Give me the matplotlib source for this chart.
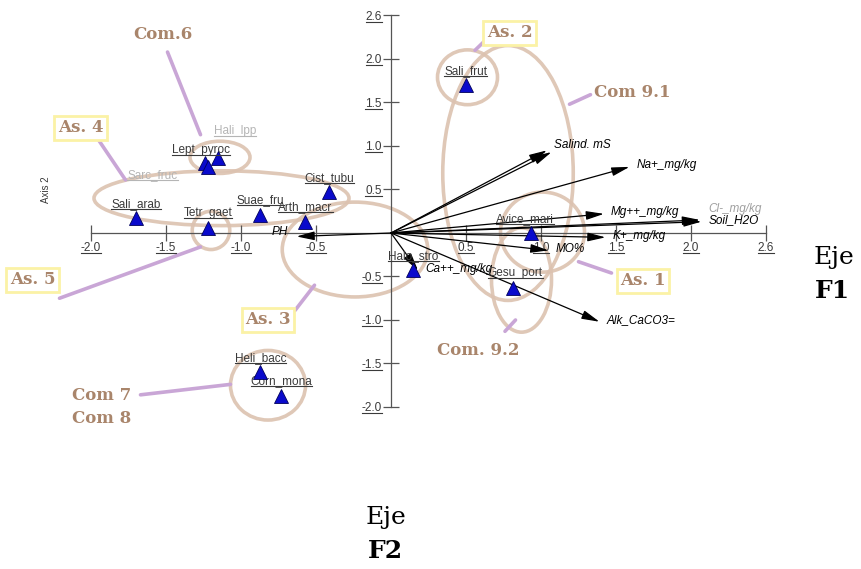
import matplotlib
matplotlib.use("Agg")
import matplotlib.pyplot as plt
from matplotlib.patches import Ellipse
from matplotlib.lines import Line2D
from matplotlib.transforms import IdentityTransform

# species scores (triangles)
species = ["Sali_frut", "Hali_lpp", "Lept_pyroc", "Sarc_fruc", "Sali_arab", "Tetr_gaet",
           "Suae_fru", "Arth_macr", "Cist_tubu", "Avice_mari", "Halo_stro", "Gesu_port",
           "Heli_bacc", "Corn_mona"]
sp_x = [0.50, -1.15, -1.24, -1.22, -1.70, -1.22, -0.87, -0.57, -0.41, 0.93, 0.15, 0.81, -0.87, -0.73]
sp_y = [1.70, 0.86, 0.80, 0.76, 0.17, 0.06, 0.21, 0.13, 0.47, 0.00, -0.43, -0.63, -1.60, -1.87]

# environmental vectors
env_names = ["Salind. mS", "", "Na+_mg/kg", "Mg++_mg/kg", "Cl-_mg/kg", "Soil_H2O",
             "K+_mg/kg", "MO%", "Ca++_mg/kg", "Alk_CaCO3=", "PH"]
env_x = [1.04, 1.07, 1.59, 1.42, 2.06, 2.07, 1.43, 1.05, 0.18, 1.39, -0.63]
env_y = [0.95, 0.93, 0.76, 0.22, 0.15, 0.13, -0.05, -0.20, -0.43, -1.02, -0.04]

# axis ticks
x_ticks = [-2.0, -1.5, -1.0, -0.5, 0.5, 1.0, 1.5, 2.0, 2.5]
x_tick_labels = ["-2.0", "-1.5", "-1.0", "-0.5", "0.5", "1.0", "1.5", "2.0", "2.6"]
y_ticks = [2.5, 2.0, 1.5, 1.0, 0.5, -0.5, -1.0, -1.5, -2.0]
y_tick_labels = ["2.6", "2.0", "1.5", "1.0", "0.5", "-0.5", "-1.0", "-1.5", "-2.0"]

# hand drawn groups (ellipses)
grp_x = [0.51, 0.78, 1.01, 0.87, -0.24, -1.13, -1.14, -1.20, -0.82]
grp_y = [1.79, 0.69, 0.01, -0.54, -0.19, 0.40, 0.87, 0.03, -1.75]
grp_w = [0.40, 0.87, 0.56, 0.40, 0.97, 1.70, 0.40, 0.25, 0.50]
grp_h = [0.63, 2.93, 0.92, 1.20, 1.09, 0.63, 0.37, 0.44, 0.80]

# group names, label positions and callout lines
grp_names = ["Com.6", "As. 4", "As. 5", "As. 3", "Com 7\nCom 8", "As. 2", "Com 9.1", "As. 1", "Com. 9.2"]
grp_boxed = [False, True, True, True, False, True, False, True, False]
lab_x = [-1.52, -2.07, -2.39, -0.82, -1.93, 0.79, 1.61, 1.68, 0.58]
lab_y = [2.28, 1.21, -0.54, -1.00, -2.00, 2.30, 1.61, -0.55, -1.35]
line_x0 = [-1.49, -1.95, -2.21, -0.64, -1.67, 0.56, 1.19, 1.25, 0.76]
line_y0 = [2.08, 1.07, -0.75, -0.89, -1.86, 2.10, 1.48, -0.33, -1.13]
line_x1 = [-1.27, -1.77, -1.27, -0.51, -1.07, 0.62, 1.33, 1.47, 0.83]
line_y1 = [1.13, 0.61, -0.16, -0.60, -1.74, 2.20, 1.59, -0.46, -1.00]

BROWN = "#a9856b"
PENCIL = "#dcc2b0"
LILAC = "#c9a6d6"
GREY = "#3a3a3a"

fig = plt.figure(figsize=(8.61, 5.69), dpi=100)
ax = fig.add_axes([0, 0, 1, 1])
ax.set_xlim(-391 / 150, 470 / 150)
ax.set_ylim(-336 / 87, 233 / 87)

# axes through the origin
for s in ["top", "right"]:
    ax.spines[s].set_visible(False)
ax.spines["left"].set_position(("data", 0))
ax.spines["bottom"].set_position(("data", 0))
ax.spines["bottom"].set_bounds(-2.0, 2.5)
ax.spines["left"].set_bounds(-2.0, 2.5)
for s in ["left", "bottom"]:
    ax.spines[s].set_color("#555555")
    ax.spines[s].set_linewidth(0.9)
ax.set_xticks(x_ticks, x_tick_labels)
ax.set_yticks(y_ticks, y_tick_labels)
ax.tick_params(direction="inout", length=11, width=0.9, color="#555555",
               labelsize=8.5, labelcolor=GREY, pad=1)
for t in ax.get_xticklabels() + ax.get_yticklabels():
    t.set_fontfamily("Liberation Sans")

# groups
for cx, cy, w, h in zip(grp_x, grp_y, grp_w, grp_h):
    ax.add_patch(Ellipse((cx, cy), w, h, fill=False, ec=PENCIL, lw=2.6, alpha=0.9, zorder=1))
for xa, ya, xb, yb in zip(line_x0, line_y0, line_x1, line_y1):
    ax.plot([xa, xb], [ya, yb], color=LILAC, lw=2.6, solid_capstyle="round", zorder=1)
for name, bx, tx, ty in zip(grp_names, grp_boxed, lab_x, lab_y):
    kw = {}
    if bx:
        kw["bbox"] = dict(boxstyle="square,pad=0.2", fc="white", ec="#fbf2a6", lw=2)
    ax.text(tx, ty, name, color=BROWN, fontsize=12, fontweight="bold",
            family="DejaVu Serif", ha="center", va="center", linespacing=1.45, zorder=3, **kw)

# environmental arrows
for name, ex, ey in zip(env_names, env_x, env_y):
    ax.annotate("", xy=(ex, ey), xytext=(0, 0),
                arrowprops=dict(arrowstyle="-|>,head_length=0.9,head_width=0.22",
                                color="black", lw=0.9, shrinkA=0, shrinkB=0,
                                mutation_scale=12), zorder=4)
    if not name:
        continue
    if name == "PH":
        off, ha = (-6, 3), "right"
    elif name == "Salind. mS":
        off, ha = (5, 4), "left"
    elif name == "Cl-_mg/kg":
        off, ha = (6, 8), "left"
    else:
        off, ha = (5, 1), "left"
    col = "#a0a0a0" if name == "Cl-_mg/kg" else "black"
    ax.annotate(name, xy=(ex, ey), xytext=off, textcoords="offset points",
                ha=ha, va="center", fontsize=8.5, style="italic", color=col,
                family="Liberation Sans", zorder=5)

# species triangles and labels (the crowded Com.6 cluster is spread a little)
ax.plot(sp_x, sp_y, linestyle="none", marker="^", ms=10, mfc="#0a0acc",
        mec="#00005a", mew=0.6, zorder=6)
label_off = {"Hali_lpp": (12, 15), "Lept_pyroc": (-3, 5), "Sarc_fruc": (-40, -10),
             "Gesu_port": (2, 6), "Avice_mari": (-4, 6)}
sp_texts = []
for name, sx, sy in zip(species, sp_x, sp_y):
    off = label_off.get(name, (0, 6))
    col = "#b5b5b5" if name in ("Hali_lpp", "Sarc_fruc") else GREY
    t = ax.annotate(name, xy=(sx, sy), xytext=off, textcoords="offset points",
                    ha="center", va="bottom", fontsize=8.5, color=col,
                    family="Liberation Sans", zorder=5)
    sp_texts.append(t)

ax.text(-2.3, 0.5, "Axis 2", rotation=90, fontsize=7, color=GREY,
        family="Liberation Sans", ha="center", va="center")

# axis titles outside the plot
fig.text(0.968, 0.547, "Eje", fontsize=18, family="DejaVu Serif", ha="center", va="center")
fig.text(0.967, 0.489, "F1", fontsize=18, fontweight="bold", family="DejaVu Serif",
         ha="center", va="center")
fig.text(0.448, 0.090, "Eje", fontsize=18, family="DejaVu Serif", ha="center", va="center")
fig.text(0.448, 0.032, "F2", fontsize=18, fontweight="bold", family="DejaVu Serif",
         ha="center", va="center")

# underline tick labels and species names like the original output
fig.canvas.draw()
rend = fig.canvas.get_renderer()
for t in ax.get_xticklabels() + ax.get_yticklabels() + sp_texts:
    bb = t.get_window_extent(rend)
    fig.add_artist(Line2D([bb.x0, bb.x1], [bb.y0 + 1, bb.y0 + 1], color=t.get_color(),
                          lw=0.8, transform=IdentityTransform()))

fig.savefig("out.png", dpi=100)
